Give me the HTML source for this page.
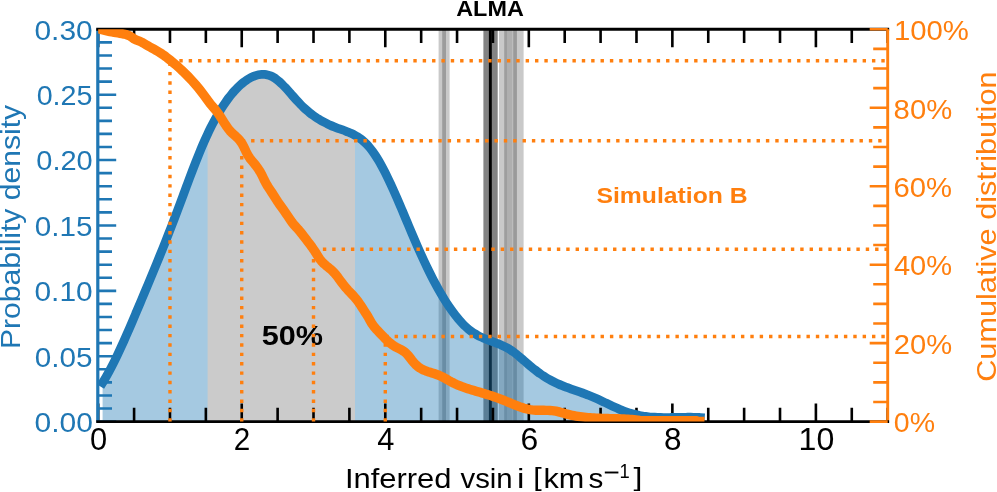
<!DOCTYPE html><html><head><meta charset="utf-8"><style>html,body{margin:0;padding:0;background:#fff;}svg{display:block;}text{font-family:"Liberation Sans", sans-serif;}</style></head><body>
<div style="will-change:transform;width:997px;height:492px;"><svg width="997" height="492" viewBox="0 0 997 492">
<defs><clipPath id="ax"><rect x="98.2" y="29.3" width="789.5" height="392.3"/></clipPath></defs>
<rect x="0" y="0" width="997" height="492" fill="#fff"/>
<rect x="438.6" y="29.3" width="11" height="392.3" fill="#c9c9c9"/>
<rect x="442.2" y="29.3" width="3.8" height="392.3" fill="#9c9c9c"/>
<rect x="483.4" y="29.3" width="14.3" height="392.3" fill="#838383"/>
<rect x="488.9" y="29.3" width="2.9" height="392.3" fill="#000000"/>
<rect x="499" y="29.3" width="24.6" height="392.3" fill="#c9c9c9"/>
<rect x="504.2" y="29.3" width="2.8" height="392.3" fill="#9e9e9e"/>
<rect x="507" y="29.3" width="5.5" height="392.3" fill="#afafaf"/>
<rect x="513.2" y="29.3" width="3.7" height="392.3" fill="#9a9a9a"/>
<path d="M102.6 382.71 C103.1 381.88 104.6 379.47 105.6 377.76 C106.6 376.05 107.6 374.27 108.6 372.44 C109.6 370.61 110.6 368.73 111.6 366.8 C112.6 364.87 113.6 362.88 114.6 360.86 C115.6 358.84 116.6 356.77 117.6 354.66 C118.6 352.56 119.6 350.41 120.6 348.23 C121.6 346.06 122.6 343.85 123.6 341.61 C124.6 339.38 125.6 337.1 126.6 334.82 C127.6 332.54 128.6 330.23 129.6 327.91 C130.6 325.59 131.6 323.26 132.6 320.91 C133.6 318.56 134.6 316.2 135.6 313.84 C136.6 311.48 137.6 309.12 138.6 306.75 C139.6 304.38 140.6 302.02 141.6 299.65 C142.6 297.28 143.6 294.9 144.6 292.52 C145.6 290.14 146.6 287.75 147.6 285.36 C148.6 282.97 149.6 280.58 150.6 278.17 C151.6 275.76 152.6 273.35 153.6 270.93 C154.6 268.51 155.6 266.07 156.6 263.63 C157.6 261.19 158.6 258.74 159.6 256.27 C160.6 253.8 161.6 251.32 162.6 248.83 C163.6 246.34 164.6 243.84 165.6 241.32 C166.6 238.8 167.6 236.26 168.6 233.71 C169.6 231.16 170.6 228.59 171.6 226.01 C172.6 223.42 173.6 220.82 174.6 218.2 C175.6 215.58 176.6 212.94 177.6 210.28 C178.6 207.62 179.6 204.93 180.6 202.24 C181.6 199.55 182.6 196.85 183.6 194.15 C184.6 191.45 185.6 188.74 186.6 186.05 C187.6 183.36 188.6 180.66 189.6 178 C190.6 175.34 191.6 172.69 192.6 170.07 C193.6 167.45 194.6 164.85 195.6 162.3 C196.6 159.75 197.6 157.23 198.6 154.77 C199.6 152.31 200.6 149.88 201.6 147.52 C202.6 145.16 203.6 142.84 204.6 140.59 C205.6 138.34 206.6 136.15 207.6 134.02 C208.6 131.89 209.6 129.83 210.6 127.83 C211.6 125.83 212.6 123.89 213.6 122.01 C214.6 120.13 215.6 118.31 216.6 116.55 C217.6 114.79 218.6 113.08 219.6 111.43 C220.6 109.78 221.6 108.17 222.6 106.63 C223.6 105.08 224.6 103.59 225.6 102.16 C226.6 100.72 227.6 99.34 228.6 98.02 C229.6 96.69 230.6 95.42 231.6 94.21 C232.6 92.99 233.6 91.84 234.6 90.73 C235.6 89.62 236.6 88.57 237.6 87.57 C238.6 86.57 239.6 85.63 240.6 84.75 C241.6 83.87 242.6 83.04 243.6 82.26 C244.6 81.48 245.6 80.77 246.6 80.1 C247.6 79.43 248.6 78.82 249.6 78.26 C250.6 77.7 251.6 77.2 252.6 76.76 C253.6 76.32 254.6 75.93 255.6 75.6 C256.6 75.27 257.6 75 258.6 74.8 C259.6 74.6 260.6 74.46 261.6 74.4 C262.6 74.34 263.6 74.34 264.6 74.43 C265.6 74.52 266.6 74.68 267.6 74.92 C268.6 75.16 269.6 75.48 270.6 75.89 C271.6 76.3 272.6 76.8 273.6 77.39 C274.6 77.98 275.6 78.66 276.6 79.41 C277.6 80.16 278.6 81 279.6 81.89 C280.6 82.78 281.6 83.74 282.6 84.74 C283.6 85.73 284.6 86.79 285.6 87.86 C286.6 88.93 287.6 90.05 288.6 91.17 C289.6 92.29 290.6 93.45 291.6 94.59 C292.6 95.73 293.6 96.88 294.6 98.01 C295.6 99.14 296.6 100.27 297.6 101.35 C298.6 102.43 299.6 103.5 300.6 104.52 C301.6 105.54 302.6 106.52 303.6 107.46 C304.6 108.4 305.6 109.31 306.6 110.18 C307.6 111.05 308.6 111.89 309.6 112.69 C310.6 113.49 311.6 114.25 312.6 114.99 C313.6 115.73 314.6 116.43 315.6 117.11 C316.6 117.79 317.6 118.43 318.6 119.05 C319.6 119.67 320.6 120.27 321.6 120.84 C322.6 121.41 323.6 121.95 324.6 122.47 C325.6 122.99 326.6 123.49 327.6 123.97 C328.6 124.45 329.6 124.91 330.6 125.35 C331.6 125.79 332.6 126.21 333.6 126.62 C334.6 127.03 335.6 127.41 336.6 127.79 C337.6 128.17 338.6 128.53 339.6 128.89 C340.6 129.25 341.6 129.59 342.6 129.95 C343.6 130.31 344.6 130.67 345.6 131.05 C346.6 131.43 347.6 131.81 348.6 132.23 C349.6 132.65 350.6 133.08 351.6 133.55 C352.6 134.02 353.6 134.52 354.6 135.06 C355.6 135.6 356.6 136.18 357.6 136.82 C358.6 137.46 359.6 138.14 360.6 138.89 C361.6 139.64 362.6 140.45 363.6 141.33 C364.6 142.21 365.6 143.15 366.6 144.18 C367.6 145.21 368.6 146.31 369.6 147.5 C370.6 148.69 371.6 149.98 372.6 151.35 C373.6 152.72 374.6 154.19 375.6 155.73 C376.6 157.27 377.6 158.9 378.6 160.59 C379.6 162.28 380.6 164.06 381.6 165.89 C382.6 167.72 383.6 169.63 384.6 171.58 C385.6 173.53 386.6 175.55 387.6 177.61 C388.6 179.67 389.6 181.79 390.6 183.94 C391.6 186.09 392.6 188.29 393.6 190.52 C394.6 192.75 395.6 195.02 396.6 197.31 C397.6 199.6 398.6 201.92 399.6 204.26 C400.6 206.59 401.6 208.96 402.6 211.32 C403.6 213.68 404.6 216.06 405.6 218.44 C406.6 220.82 407.6 223.2 408.6 225.58 C409.6 227.96 410.6 230.34 411.6 232.7 C412.6 235.06 413.6 237.41 414.6 239.74 C415.6 242.07 416.6 244.38 417.6 246.66 C418.6 248.94 419.6 251.2 420.6 253.42 C421.6 255.64 422.6 257.83 423.6 259.98 C424.6 262.13 425.6 264.26 426.6 266.34 C427.6 268.42 428.6 270.47 429.6 272.48 C430.6 274.49 431.6 276.46 432.6 278.4 C433.6 280.34 434.6 282.24 435.6 284.1 C436.6 285.96 437.6 287.77 438.6 289.55 C439.6 291.33 440.6 293.06 441.6 294.76 C442.6 296.45 443.6 298.11 444.6 299.72 C445.6 301.33 446.6 302.9 447.6 304.42 C448.6 305.94 449.6 307.41 450.6 308.84 C451.6 310.27 452.6 311.65 453.6 312.99 C454.6 314.33 455.6 315.62 456.6 316.86 C457.6 318.1 458.6 319.29 459.6 320.43 C460.6 321.57 461.6 322.65 462.6 323.69 C463.6 324.73 464.6 325.72 465.6 326.65 C466.6 327.58 467.6 328.46 468.6 329.29 C469.6 330.12 470.6 330.89 471.6 331.61 C472.6 332.33 473.6 332.99 474.6 333.61 C475.6 334.23 476.6 334.81 477.6 335.35 C478.6 335.9 479.6 336.4 480.6 336.88 C481.6 337.36 482.6 337.79 483.6 338.22 C484.6 338.65 485.6 339.05 486.6 339.44 C487.6 339.83 488.6 340.21 489.6 340.58 C490.6 340.95 491.6 341.31 492.6 341.68 C493.6 342.05 494.6 342.4 495.6 342.78 C496.6 343.15 497.6 343.53 498.6 343.93 C499.6 344.33 500.6 344.75 501.6 345.19 C502.6 345.63 503.6 346.08 504.6 346.58 C505.6 347.07 506.6 347.59 507.6 348.16 C508.6 348.73 509.6 349.33 510.6 349.98 C511.6 350.63 512.6 351.33 513.6 352.06 C514.6 352.79 515.6 353.56 516.6 354.36 C517.6 355.16 518.6 355.99 519.6 356.83 C520.6 357.67 521.6 358.53 522.6 359.4 C523.6 360.26 524.6 361.15 525.6 362.02 C526.6 362.89 527.6 363.76 528.6 364.62 C529.6 365.48 530.6 366.32 531.6 367.15 C532.6 367.97 533.6 368.79 534.6 369.57 C535.6 370.35 536.6 371.11 537.6 371.85 C538.6 372.59 539.6 373.31 540.6 374.01 C541.6 374.71 542.6 375.38 543.6 376.03 C544.6 376.68 545.6 377.31 546.6 377.92 C547.6 378.53 548.6 379.1 549.6 379.66 C550.6 380.22 551.6 380.76 552.6 381.27 C553.6 381.78 554.6 382.27 555.6 382.74 C556.6 383.21 557.6 383.67 558.6 384.11 C559.6 384.55 560.6 384.97 561.6 385.38 C562.6 385.79 563.6 386.18 564.6 386.57 C565.6 386.96 566.6 387.33 567.6 387.7 C568.6 388.07 569.6 388.42 570.6 388.78 C571.6 389.13 572.6 389.48 573.6 389.83 C574.6 390.18 575.6 390.52 576.6 390.87 C577.6 391.22 578.6 391.57 579.6 391.92 C580.6 392.27 581.6 392.62 582.6 392.98 C583.6 393.34 584.6 393.7 585.6 394.08 C586.6 394.46 587.6 394.84 588.6 395.24 C589.6 395.64 590.6 396.05 591.6 396.47 C592.6 396.89 593.6 397.32 594.6 397.76 C595.6 398.2 596.6 398.65 597.6 399.11 C598.6 399.57 599.6 400.03 600.6 400.5 C601.6 400.97 602.6 401.45 603.6 401.92 C604.6 402.39 605.6 402.87 606.6 403.34 C607.6 403.81 608.6 404.29 609.6 404.76 C610.6 405.23 611.6 405.7 612.6 406.16 C613.6 406.62 614.6 407.08 615.6 407.53 C616.6 407.98 617.6 408.41 618.6 408.84 C619.6 409.27 620.6 409.69 621.6 410.09 C622.6 410.49 623.6 410.89 624.6 411.26 C625.6 411.63 626.6 411.99 627.6 412.33 C628.6 412.67 629.6 412.99 630.6 413.29 C631.6 413.59 632.6 413.87 633.6 414.13 C634.6 414.39 635.6 414.63 636.6 414.85 C637.6 415.07 638.6 415.28 639.6 415.47 C640.6 415.66 641.6 415.83 642.6 415.99 C643.6 416.15 644.6 416.29 645.6 416.42 C646.6 416.55 647.6 416.67 648.6 416.77 C649.6 416.87 650.6 416.96 651.6 417.04 C652.6 417.12 653.6 417.19 654.6 417.25 C655.6 417.31 656.6 417.35 657.6 417.39 C658.6 417.43 659.6 417.47 660.6 417.49 C661.6 417.51 662.6 417.53 663.6 417.54 C664.6 417.55 665.6 417.55 666.6 417.55 C667.6 417.55 668.6 417.54 669.6 417.53 C670.6 417.52 671.6 417.5 672.6 417.49 C673.6 417.48 674.6 417.46 675.6 417.44 C676.6 417.42 677.6 417.41 678.6 417.39 C679.6 417.37 680.6 417.35 681.6 417.33 C682.6 417.31 683.6 417.3 684.6 417.29 C685.6 417.28 686.6 417.26 687.6 417.26 C688.6 417.25 689.6 417.25 690.6 417.26 C691.6 417.26 692.6 417.27 693.6 417.29 C694.6 417.31 695.6 417.33 696.6 417.36 C697.6 417.39 698.98 417.45 699.6 417.48 C700.22 417.51 700.18 417.51 700.3 417.52 L700.3 421.6 L102.6 421.6 Z" fill="#1f77b4" fill-opacity="0.4" clip-path="url(#ax)"/>
<clipPath id="gr"><rect x="207.6" y="0" width="147.4" height="492"/></clipPath>
<path d="M102.6 382.71 C103.1 381.88 104.6 379.47 105.6 377.76 C106.6 376.05 107.6 374.27 108.6 372.44 C109.6 370.61 110.6 368.73 111.6 366.8 C112.6 364.87 113.6 362.88 114.6 360.86 C115.6 358.84 116.6 356.77 117.6 354.66 C118.6 352.56 119.6 350.41 120.6 348.23 C121.6 346.06 122.6 343.85 123.6 341.61 C124.6 339.38 125.6 337.1 126.6 334.82 C127.6 332.54 128.6 330.23 129.6 327.91 C130.6 325.59 131.6 323.26 132.6 320.91 C133.6 318.56 134.6 316.2 135.6 313.84 C136.6 311.48 137.6 309.12 138.6 306.75 C139.6 304.38 140.6 302.02 141.6 299.65 C142.6 297.28 143.6 294.9 144.6 292.52 C145.6 290.14 146.6 287.75 147.6 285.36 C148.6 282.97 149.6 280.58 150.6 278.17 C151.6 275.76 152.6 273.35 153.6 270.93 C154.6 268.51 155.6 266.07 156.6 263.63 C157.6 261.19 158.6 258.74 159.6 256.27 C160.6 253.8 161.6 251.32 162.6 248.83 C163.6 246.34 164.6 243.84 165.6 241.32 C166.6 238.8 167.6 236.26 168.6 233.71 C169.6 231.16 170.6 228.59 171.6 226.01 C172.6 223.42 173.6 220.82 174.6 218.2 C175.6 215.58 176.6 212.94 177.6 210.28 C178.6 207.62 179.6 204.93 180.6 202.24 C181.6 199.55 182.6 196.85 183.6 194.15 C184.6 191.45 185.6 188.74 186.6 186.05 C187.6 183.36 188.6 180.66 189.6 178 C190.6 175.34 191.6 172.69 192.6 170.07 C193.6 167.45 194.6 164.85 195.6 162.3 C196.6 159.75 197.6 157.23 198.6 154.77 C199.6 152.31 200.6 149.88 201.6 147.52 C202.6 145.16 203.6 142.84 204.6 140.59 C205.6 138.34 206.6 136.15 207.6 134.02 C208.6 131.89 209.6 129.83 210.6 127.83 C211.6 125.83 212.6 123.89 213.6 122.01 C214.6 120.13 215.6 118.31 216.6 116.55 C217.6 114.79 218.6 113.08 219.6 111.43 C220.6 109.78 221.6 108.17 222.6 106.63 C223.6 105.08 224.6 103.59 225.6 102.16 C226.6 100.72 227.6 99.34 228.6 98.02 C229.6 96.69 230.6 95.42 231.6 94.21 C232.6 92.99 233.6 91.84 234.6 90.73 C235.6 89.62 236.6 88.57 237.6 87.57 C238.6 86.57 239.6 85.63 240.6 84.75 C241.6 83.87 242.6 83.04 243.6 82.26 C244.6 81.48 245.6 80.77 246.6 80.1 C247.6 79.43 248.6 78.82 249.6 78.26 C250.6 77.7 251.6 77.2 252.6 76.76 C253.6 76.32 254.6 75.93 255.6 75.6 C256.6 75.27 257.6 75 258.6 74.8 C259.6 74.6 260.6 74.46 261.6 74.4 C262.6 74.34 263.6 74.34 264.6 74.43 C265.6 74.52 266.6 74.68 267.6 74.92 C268.6 75.16 269.6 75.48 270.6 75.89 C271.6 76.3 272.6 76.8 273.6 77.39 C274.6 77.98 275.6 78.66 276.6 79.41 C277.6 80.16 278.6 81 279.6 81.89 C280.6 82.78 281.6 83.74 282.6 84.74 C283.6 85.73 284.6 86.79 285.6 87.86 C286.6 88.93 287.6 90.05 288.6 91.17 C289.6 92.29 290.6 93.45 291.6 94.59 C292.6 95.73 293.6 96.88 294.6 98.01 C295.6 99.14 296.6 100.27 297.6 101.35 C298.6 102.43 299.6 103.5 300.6 104.52 C301.6 105.54 302.6 106.52 303.6 107.46 C304.6 108.4 305.6 109.31 306.6 110.18 C307.6 111.05 308.6 111.89 309.6 112.69 C310.6 113.49 311.6 114.25 312.6 114.99 C313.6 115.73 314.6 116.43 315.6 117.11 C316.6 117.79 317.6 118.43 318.6 119.05 C319.6 119.67 320.6 120.27 321.6 120.84 C322.6 121.41 323.6 121.95 324.6 122.47 C325.6 122.99 326.6 123.49 327.6 123.97 C328.6 124.45 329.6 124.91 330.6 125.35 C331.6 125.79 332.6 126.21 333.6 126.62 C334.6 127.03 335.6 127.41 336.6 127.79 C337.6 128.17 338.6 128.53 339.6 128.89 C340.6 129.25 341.6 129.59 342.6 129.95 C343.6 130.31 344.6 130.67 345.6 131.05 C346.6 131.43 347.6 131.81 348.6 132.23 C349.6 132.65 350.6 133.08 351.6 133.55 C352.6 134.02 353.6 134.52 354.6 135.06 C355.6 135.6 356.6 136.18 357.6 136.82 C358.6 137.46 359.6 138.14 360.6 138.89 C361.6 139.64 362.6 140.45 363.6 141.33 C364.6 142.21 365.6 143.15 366.6 144.18 C367.6 145.21 368.6 146.31 369.6 147.5 C370.6 148.69 371.6 149.98 372.6 151.35 C373.6 152.72 374.6 154.19 375.6 155.73 C376.6 157.27 377.6 158.9 378.6 160.59 C379.6 162.28 380.6 164.06 381.6 165.89 C382.6 167.72 383.6 169.63 384.6 171.58 C385.6 173.53 386.6 175.55 387.6 177.61 C388.6 179.67 389.6 181.79 390.6 183.94 C391.6 186.09 392.6 188.29 393.6 190.52 C394.6 192.75 395.6 195.02 396.6 197.31 C397.6 199.6 398.6 201.92 399.6 204.26 C400.6 206.59 401.6 208.96 402.6 211.32 C403.6 213.68 404.6 216.06 405.6 218.44 C406.6 220.82 407.6 223.2 408.6 225.58 C409.6 227.96 410.6 230.34 411.6 232.7 C412.6 235.06 413.6 237.41 414.6 239.74 C415.6 242.07 416.6 244.38 417.6 246.66 C418.6 248.94 419.6 251.2 420.6 253.42 C421.6 255.64 422.6 257.83 423.6 259.98 C424.6 262.13 425.6 264.26 426.6 266.34 C427.6 268.42 428.6 270.47 429.6 272.48 C430.6 274.49 431.6 276.46 432.6 278.4 C433.6 280.34 434.6 282.24 435.6 284.1 C436.6 285.96 437.6 287.77 438.6 289.55 C439.6 291.33 440.6 293.06 441.6 294.76 C442.6 296.45 443.6 298.11 444.6 299.72 C445.6 301.33 446.6 302.9 447.6 304.42 C448.6 305.94 449.6 307.41 450.6 308.84 C451.6 310.27 452.6 311.65 453.6 312.99 C454.6 314.33 455.6 315.62 456.6 316.86 C457.6 318.1 458.6 319.29 459.6 320.43 C460.6 321.57 461.6 322.65 462.6 323.69 C463.6 324.73 464.6 325.72 465.6 326.65 C466.6 327.58 467.6 328.46 468.6 329.29 C469.6 330.12 470.6 330.89 471.6 331.61 C472.6 332.33 473.6 332.99 474.6 333.61 C475.6 334.23 476.6 334.81 477.6 335.35 C478.6 335.9 479.6 336.4 480.6 336.88 C481.6 337.36 482.6 337.79 483.6 338.22 C484.6 338.65 485.6 339.05 486.6 339.44 C487.6 339.83 488.6 340.21 489.6 340.58 C490.6 340.95 491.6 341.31 492.6 341.68 C493.6 342.05 494.6 342.4 495.6 342.78 C496.6 343.15 497.6 343.53 498.6 343.93 C499.6 344.33 500.6 344.75 501.6 345.19 C502.6 345.63 503.6 346.08 504.6 346.58 C505.6 347.07 506.6 347.59 507.6 348.16 C508.6 348.73 509.6 349.33 510.6 349.98 C511.6 350.63 512.6 351.33 513.6 352.06 C514.6 352.79 515.6 353.56 516.6 354.36 C517.6 355.16 518.6 355.99 519.6 356.83 C520.6 357.67 521.6 358.53 522.6 359.4 C523.6 360.26 524.6 361.15 525.6 362.02 C526.6 362.89 527.6 363.76 528.6 364.62 C529.6 365.48 530.6 366.32 531.6 367.15 C532.6 367.97 533.6 368.79 534.6 369.57 C535.6 370.35 536.6 371.11 537.6 371.85 C538.6 372.59 539.6 373.31 540.6 374.01 C541.6 374.71 542.6 375.38 543.6 376.03 C544.6 376.68 545.6 377.31 546.6 377.92 C547.6 378.53 548.6 379.1 549.6 379.66 C550.6 380.22 551.6 380.76 552.6 381.27 C553.6 381.78 554.6 382.27 555.6 382.74 C556.6 383.21 557.6 383.67 558.6 384.11 C559.6 384.55 560.6 384.97 561.6 385.38 C562.6 385.79 563.6 386.18 564.6 386.57 C565.6 386.96 566.6 387.33 567.6 387.7 C568.6 388.07 569.6 388.42 570.6 388.78 C571.6 389.13 572.6 389.48 573.6 389.83 C574.6 390.18 575.6 390.52 576.6 390.87 C577.6 391.22 578.6 391.57 579.6 391.92 C580.6 392.27 581.6 392.62 582.6 392.98 C583.6 393.34 584.6 393.7 585.6 394.08 C586.6 394.46 587.6 394.84 588.6 395.24 C589.6 395.64 590.6 396.05 591.6 396.47 C592.6 396.89 593.6 397.32 594.6 397.76 C595.6 398.2 596.6 398.65 597.6 399.11 C598.6 399.57 599.6 400.03 600.6 400.5 C601.6 400.97 602.6 401.45 603.6 401.92 C604.6 402.39 605.6 402.87 606.6 403.34 C607.6 403.81 608.6 404.29 609.6 404.76 C610.6 405.23 611.6 405.7 612.6 406.16 C613.6 406.62 614.6 407.08 615.6 407.53 C616.6 407.98 617.6 408.41 618.6 408.84 C619.6 409.27 620.6 409.69 621.6 410.09 C622.6 410.49 623.6 410.89 624.6 411.26 C625.6 411.63 626.6 411.99 627.6 412.33 C628.6 412.67 629.6 412.99 630.6 413.29 C631.6 413.59 632.6 413.87 633.6 414.13 C634.6 414.39 635.6 414.63 636.6 414.85 C637.6 415.07 638.6 415.28 639.6 415.47 C640.6 415.66 641.6 415.83 642.6 415.99 C643.6 416.15 644.6 416.29 645.6 416.42 C646.6 416.55 647.6 416.67 648.6 416.77 C649.6 416.87 650.6 416.96 651.6 417.04 C652.6 417.12 653.6 417.19 654.6 417.25 C655.6 417.31 656.6 417.35 657.6 417.39 C658.6 417.43 659.6 417.47 660.6 417.49 C661.6 417.51 662.6 417.53 663.6 417.54 C664.6 417.55 665.6 417.55 666.6 417.55 C667.6 417.55 668.6 417.54 669.6 417.53 C670.6 417.52 671.6 417.5 672.6 417.49 C673.6 417.48 674.6 417.46 675.6 417.44 C676.6 417.42 677.6 417.41 678.6 417.39 C679.6 417.37 680.6 417.35 681.6 417.33 C682.6 417.31 683.6 417.3 684.6 417.29 C685.6 417.28 686.6 417.26 687.6 417.26 C688.6 417.25 689.6 417.25 690.6 417.26 C691.6 417.26 692.6 417.27 693.6 417.29 C694.6 417.31 695.6 417.33 696.6 417.36 C697.6 417.39 698.98 417.45 699.6 417.48 C700.22 417.51 700.18 417.51 700.3 417.52 L700.3 421.6 L102.6 421.6 Z" fill="#cbcbcb" clip-path="url(#gr)"/>
<path d="M98.2 421.6 V403.6 M98.2 29.3 V47.3 M134.09 421.6 V407.8 M134.09 29.3 V43.1 M169.97 421.6 V407.8 M169.97 29.3 V43.1 M205.86 421.6 V407.8 M205.86 29.3 V43.1 M241.74 421.6 V403.6 M241.74 29.3 V47.3 M277.62 421.6 V407.8 M277.62 29.3 V43.1 M313.51 421.6 V407.8 M313.51 29.3 V43.1 M349.39 421.6 V407.8 M349.39 29.3 V43.1 M385.28 421.6 V403.6 M385.28 29.3 V47.3 M421.16 421.6 V407.8 M421.16 29.3 V43.1 M457.05 421.6 V407.8 M457.05 29.3 V43.1 M492.93 421.6 V407.8 M492.93 29.3 V43.1 M528.82 421.6 V403.6 M528.82 29.3 V47.3 M564.71 421.6 V407.8 M564.71 29.3 V43.1 M600.59 421.6 V407.8 M600.59 29.3 V43.1 M636.48 421.6 V407.8 M636.48 29.3 V43.1 M672.36 421.6 V403.6 M672.36 29.3 V47.3 M708.25 421.6 V407.8 M708.25 29.3 V43.1 M744.13 421.6 V407.8 M744.13 29.3 V43.1 M780.01 421.6 V407.8 M780.01 29.3 V43.1 M815.9 421.6 V403.6 M815.9 29.3 V47.3 M851.78 421.6 V407.8 M851.78 29.3 V43.1 M887.67 421.6 V407.8 M887.67 29.3 V43.1" stroke="#000" stroke-width="2.6" fill="none"/>
<path d="M98.2 421.6 H116.2 M98.2 408.52 H112 M98.2 395.45 H112 M98.2 382.37 H112 M98.2 369.29 H112 M98.2 356.22 H116.2 M98.2 343.14 H112 M98.2 330.06 H112 M98.2 316.99 H112 M98.2 303.91 H112 M98.2 290.83 H116.2 M98.2 277.76 H112 M98.2 264.68 H112 M98.2 251.6 H112 M98.2 238.53 H112 M98.2 225.45 H116.2 M98.2 212.37 H112 M98.2 199.3 H112 M98.2 186.22 H112 M98.2 173.14 H112 M98.2 160.07 H116.2 M98.2 146.99 H112 M98.2 133.91 H112 M98.2 120.84 H112 M98.2 107.76 H112 M98.2 94.68 H116.2 M98.2 81.61 H112 M98.2 68.53 H112 M98.2 55.45 H112 M98.2 42.38 H112 M98.2 29.3 H116.2" stroke="#1f77b4" stroke-width="2.6" fill="none"/>
<path d="M102.6 382.71 C103.1 381.88 104.6 379.47 105.6 377.76 C106.6 376.05 107.6 374.27 108.6 372.44 C109.6 370.61 110.6 368.73 111.6 366.8 C112.6 364.87 113.6 362.88 114.6 360.86 C115.6 358.84 116.6 356.77 117.6 354.66 C118.6 352.56 119.6 350.41 120.6 348.23 C121.6 346.06 122.6 343.85 123.6 341.61 C124.6 339.38 125.6 337.1 126.6 334.82 C127.6 332.54 128.6 330.23 129.6 327.91 C130.6 325.59 131.6 323.26 132.6 320.91 C133.6 318.56 134.6 316.2 135.6 313.84 C136.6 311.48 137.6 309.12 138.6 306.75 C139.6 304.38 140.6 302.02 141.6 299.65 C142.6 297.28 143.6 294.9 144.6 292.52 C145.6 290.14 146.6 287.75 147.6 285.36 C148.6 282.97 149.6 280.58 150.6 278.17 C151.6 275.76 152.6 273.35 153.6 270.93 C154.6 268.51 155.6 266.07 156.6 263.63 C157.6 261.19 158.6 258.74 159.6 256.27 C160.6 253.8 161.6 251.32 162.6 248.83 C163.6 246.34 164.6 243.84 165.6 241.32 C166.6 238.8 167.6 236.26 168.6 233.71 C169.6 231.16 170.6 228.59 171.6 226.01 C172.6 223.42 173.6 220.82 174.6 218.2 C175.6 215.58 176.6 212.94 177.6 210.28 C178.6 207.62 179.6 204.93 180.6 202.24 C181.6 199.55 182.6 196.85 183.6 194.15 C184.6 191.45 185.6 188.74 186.6 186.05 C187.6 183.36 188.6 180.66 189.6 178 C190.6 175.34 191.6 172.69 192.6 170.07 C193.6 167.45 194.6 164.85 195.6 162.3 C196.6 159.75 197.6 157.23 198.6 154.77 C199.6 152.31 200.6 149.88 201.6 147.52 C202.6 145.16 203.6 142.84 204.6 140.59 C205.6 138.34 206.6 136.15 207.6 134.02 C208.6 131.89 209.6 129.83 210.6 127.83 C211.6 125.83 212.6 123.89 213.6 122.01 C214.6 120.13 215.6 118.31 216.6 116.55 C217.6 114.79 218.6 113.08 219.6 111.43 C220.6 109.78 221.6 108.17 222.6 106.63 C223.6 105.08 224.6 103.59 225.6 102.16 C226.6 100.72 227.6 99.34 228.6 98.02 C229.6 96.69 230.6 95.42 231.6 94.21 C232.6 92.99 233.6 91.84 234.6 90.73 C235.6 89.62 236.6 88.57 237.6 87.57 C238.6 86.57 239.6 85.63 240.6 84.75 C241.6 83.87 242.6 83.04 243.6 82.26 C244.6 81.48 245.6 80.77 246.6 80.1 C247.6 79.43 248.6 78.82 249.6 78.26 C250.6 77.7 251.6 77.2 252.6 76.76 C253.6 76.32 254.6 75.93 255.6 75.6 C256.6 75.27 257.6 75 258.6 74.8 C259.6 74.6 260.6 74.46 261.6 74.4 C262.6 74.34 263.6 74.34 264.6 74.43 C265.6 74.52 266.6 74.68 267.6 74.92 C268.6 75.16 269.6 75.48 270.6 75.89 C271.6 76.3 272.6 76.8 273.6 77.39 C274.6 77.98 275.6 78.66 276.6 79.41 C277.6 80.16 278.6 81 279.6 81.89 C280.6 82.78 281.6 83.74 282.6 84.74 C283.6 85.73 284.6 86.79 285.6 87.86 C286.6 88.93 287.6 90.05 288.6 91.17 C289.6 92.29 290.6 93.45 291.6 94.59 C292.6 95.73 293.6 96.88 294.6 98.01 C295.6 99.14 296.6 100.27 297.6 101.35 C298.6 102.43 299.6 103.5 300.6 104.52 C301.6 105.54 302.6 106.52 303.6 107.46 C304.6 108.4 305.6 109.31 306.6 110.18 C307.6 111.05 308.6 111.89 309.6 112.69 C310.6 113.49 311.6 114.25 312.6 114.99 C313.6 115.73 314.6 116.43 315.6 117.11 C316.6 117.79 317.6 118.43 318.6 119.05 C319.6 119.67 320.6 120.27 321.6 120.84 C322.6 121.41 323.6 121.95 324.6 122.47 C325.6 122.99 326.6 123.49 327.6 123.97 C328.6 124.45 329.6 124.91 330.6 125.35 C331.6 125.79 332.6 126.21 333.6 126.62 C334.6 127.03 335.6 127.41 336.6 127.79 C337.6 128.17 338.6 128.53 339.6 128.89 C340.6 129.25 341.6 129.59 342.6 129.95 C343.6 130.31 344.6 130.67 345.6 131.05 C346.6 131.43 347.6 131.81 348.6 132.23 C349.6 132.65 350.6 133.08 351.6 133.55 C352.6 134.02 353.6 134.52 354.6 135.06 C355.6 135.6 356.6 136.18 357.6 136.82 C358.6 137.46 359.6 138.14 360.6 138.89 C361.6 139.64 362.6 140.45 363.6 141.33 C364.6 142.21 365.6 143.15 366.6 144.18 C367.6 145.21 368.6 146.31 369.6 147.5 C370.6 148.69 371.6 149.98 372.6 151.35 C373.6 152.72 374.6 154.19 375.6 155.73 C376.6 157.27 377.6 158.9 378.6 160.59 C379.6 162.28 380.6 164.06 381.6 165.89 C382.6 167.72 383.6 169.63 384.6 171.58 C385.6 173.53 386.6 175.55 387.6 177.61 C388.6 179.67 389.6 181.79 390.6 183.94 C391.6 186.09 392.6 188.29 393.6 190.52 C394.6 192.75 395.6 195.02 396.6 197.31 C397.6 199.6 398.6 201.92 399.6 204.26 C400.6 206.59 401.6 208.96 402.6 211.32 C403.6 213.68 404.6 216.06 405.6 218.44 C406.6 220.82 407.6 223.2 408.6 225.58 C409.6 227.96 410.6 230.34 411.6 232.7 C412.6 235.06 413.6 237.41 414.6 239.74 C415.6 242.07 416.6 244.38 417.6 246.66 C418.6 248.94 419.6 251.2 420.6 253.42 C421.6 255.64 422.6 257.83 423.6 259.98 C424.6 262.13 425.6 264.26 426.6 266.34 C427.6 268.42 428.6 270.47 429.6 272.48 C430.6 274.49 431.6 276.46 432.6 278.4 C433.6 280.34 434.6 282.24 435.6 284.1 C436.6 285.96 437.6 287.77 438.6 289.55 C439.6 291.33 440.6 293.06 441.6 294.76 C442.6 296.45 443.6 298.11 444.6 299.72 C445.6 301.33 446.6 302.9 447.6 304.42 C448.6 305.94 449.6 307.41 450.6 308.84 C451.6 310.27 452.6 311.65 453.6 312.99 C454.6 314.33 455.6 315.62 456.6 316.86 C457.6 318.1 458.6 319.29 459.6 320.43 C460.6 321.57 461.6 322.65 462.6 323.69 C463.6 324.73 464.6 325.72 465.6 326.65 C466.6 327.58 467.6 328.46 468.6 329.29 C469.6 330.12 470.6 330.89 471.6 331.61 C472.6 332.33 473.6 332.99 474.6 333.61 C475.6 334.23 476.6 334.81 477.6 335.35 C478.6 335.9 479.6 336.4 480.6 336.88 C481.6 337.36 482.6 337.79 483.6 338.22 C484.6 338.65 485.6 339.05 486.6 339.44 C487.6 339.83 488.6 340.21 489.6 340.58 C490.6 340.95 491.6 341.31 492.6 341.68 C493.6 342.05 494.6 342.4 495.6 342.78 C496.6 343.15 497.6 343.53 498.6 343.93 C499.6 344.33 500.6 344.75 501.6 345.19 C502.6 345.63 503.6 346.08 504.6 346.58 C505.6 347.07 506.6 347.59 507.6 348.16 C508.6 348.73 509.6 349.33 510.6 349.98 C511.6 350.63 512.6 351.33 513.6 352.06 C514.6 352.79 515.6 353.56 516.6 354.36 C517.6 355.16 518.6 355.99 519.6 356.83 C520.6 357.67 521.6 358.53 522.6 359.4 C523.6 360.26 524.6 361.15 525.6 362.02 C526.6 362.89 527.6 363.76 528.6 364.62 C529.6 365.48 530.6 366.32 531.6 367.15 C532.6 367.97 533.6 368.79 534.6 369.57 C535.6 370.35 536.6 371.11 537.6 371.85 C538.6 372.59 539.6 373.31 540.6 374.01 C541.6 374.71 542.6 375.38 543.6 376.03 C544.6 376.68 545.6 377.31 546.6 377.92 C547.6 378.53 548.6 379.1 549.6 379.66 C550.6 380.22 551.6 380.76 552.6 381.27 C553.6 381.78 554.6 382.27 555.6 382.74 C556.6 383.21 557.6 383.67 558.6 384.11 C559.6 384.55 560.6 384.97 561.6 385.38 C562.6 385.79 563.6 386.18 564.6 386.57 C565.6 386.96 566.6 387.33 567.6 387.7 C568.6 388.07 569.6 388.42 570.6 388.78 C571.6 389.13 572.6 389.48 573.6 389.83 C574.6 390.18 575.6 390.52 576.6 390.87 C577.6 391.22 578.6 391.57 579.6 391.92 C580.6 392.27 581.6 392.62 582.6 392.98 C583.6 393.34 584.6 393.7 585.6 394.08 C586.6 394.46 587.6 394.84 588.6 395.24 C589.6 395.64 590.6 396.05 591.6 396.47 C592.6 396.89 593.6 397.32 594.6 397.76 C595.6 398.2 596.6 398.65 597.6 399.11 C598.6 399.57 599.6 400.03 600.6 400.5 C601.6 400.97 602.6 401.45 603.6 401.92 C604.6 402.39 605.6 402.87 606.6 403.34 C607.6 403.81 608.6 404.29 609.6 404.76 C610.6 405.23 611.6 405.7 612.6 406.16 C613.6 406.62 614.6 407.08 615.6 407.53 C616.6 407.98 617.6 408.41 618.6 408.84 C619.6 409.27 620.6 409.69 621.6 410.09 C622.6 410.49 623.6 410.89 624.6 411.26 C625.6 411.63 626.6 411.99 627.6 412.33 C628.6 412.67 629.6 412.99 630.6 413.29 C631.6 413.59 632.6 413.87 633.6 414.13 C634.6 414.39 635.6 414.63 636.6 414.85 C637.6 415.07 638.6 415.28 639.6 415.47 C640.6 415.66 641.6 415.83 642.6 415.99 C643.6 416.15 644.6 416.29 645.6 416.42 C646.6 416.55 647.6 416.67 648.6 416.77 C649.6 416.87 650.6 416.96 651.6 417.04 C652.6 417.12 653.6 417.19 654.6 417.25 C655.6 417.31 656.6 417.35 657.6 417.39 C658.6 417.43 659.6 417.47 660.6 417.49 C661.6 417.51 662.6 417.53 663.6 417.54 C664.6 417.55 665.6 417.55 666.6 417.55 C667.6 417.55 668.6 417.54 669.6 417.53 C670.6 417.52 671.6 417.5 672.6 417.49 C673.6 417.48 674.6 417.46 675.6 417.44 C676.6 417.42 677.6 417.41 678.6 417.39 C679.6 417.37 680.6 417.35 681.6 417.33 C682.6 417.31 683.6 417.3 684.6 417.29 C685.6 417.28 686.6 417.26 687.6 417.26 C688.6 417.25 689.6 417.25 690.6 417.26 C691.6 417.26 692.6 417.27 693.6 417.29 C694.6 417.31 695.6 417.33 696.6 417.36 C697.6 417.39 698.98 417.45 699.6 417.48 C700.22 417.51 700.18 417.51 700.3 417.52" stroke="#1f77b4" stroke-width="8.8" fill="none" stroke-linejoin="round" stroke-linecap="square" clip-path="url(#ax)"/>
<path d="M97.8 29.3 V421.6" stroke="#1f77b4" stroke-width="3.2"/>
<path d="M96.2 29.3 H889.15" stroke="#000" stroke-width="2.9"/>
<path d="M96.2 421.6 H889.15" stroke="#000" stroke-width="2.9"/>
<text transform="translate(261.68 344.52) scale(1.0933 1)" font-size="28.028" font-weight="bold" fill="#000">50%</text>
<path d="M169.97 421.6 V60.8" stroke="#ff7f0e" stroke-width="3.4" stroke-dasharray="3.4 5.96" fill="none"/>
<path d="M169.97 60.8 H887.7" stroke="#ff7f0e" stroke-width="3.4" stroke-dasharray="3.4 5.96" fill="none"/>
<path d="M241.74 421.6 V140.7" stroke="#ff7f0e" stroke-width="3.4" stroke-dasharray="3.4 5.96" fill="none"/>
<path d="M241.74 140.7 H887.7" stroke="#ff7f0e" stroke-width="3.4" stroke-dasharray="3.4 5.96" fill="none"/>
<path d="M313.51 421.6 V249.2" stroke="#ff7f0e" stroke-width="3.4" stroke-dasharray="3.4 5.96" fill="none"/>
<path d="M313.51 249.2 H887.7" stroke="#ff7f0e" stroke-width="3.4" stroke-dasharray="3.4 5.96" fill="none"/>
<path d="M385.28 421.6 V336.5" stroke="#ff7f0e" stroke-width="3.4" stroke-dasharray="3.4 5.96" fill="none"/>
<path d="M385.28 336.5 H887.7" stroke="#ff7f0e" stroke-width="3.4" stroke-dasharray="3.4 5.96" fill="none"/>
<path d="M96 28.34 L98 28.77 L100 29.23 L102 29.7 L104 30.18 L106 30.65 L108 31.11 L110 31.54 L112 31.94 L114 32.29 L116 32.61 L118 32.93 L120 33.27 L122 33.63 L124 34.06 L126 34.55 L128 35.17 L130 36.09 L132 37.41 L134 38.81 L136 39.9 L138 40.63 L140 41.35 L142 42.34 L144 43.51 L146 44.71 L148 45.86 L150 46.98 L152 48.08 L154 49.19 L156 50.32 L158 51.5 L160 52.73 L162 54.04 L164 55.42 L166 56.87 L168 58.39 L170 59.97 L172 61.6 L174 63.29 L176 65.02 L178 66.79 L180 68.61 L182 70.48 L184 72.4 L186 74.37 L188 76.4 L190 78.49 L192 80.64 L194 82.86 L196 85.15 L198 87.53 L200 89.99 L202 92.56 L204 95.23 L206 97.99 L208 100.75 L210 103.41 L212 105.86 L214 108.14 L216 110.53 L218 113.23 L220 116.17 L222 119.27 L224 122.44 L226 125.54 L228 128.4 L230 130.88 L232 132.95 L234 134.78 L236 136.55 L238 138.46 L240 140.69 L242 143.5 L244 147.22 L246 151.55 L248 155.48 L250 158.44 L252 160.89 L254 163.26 L256 165.74 L258 168.48 L260 171.61 L262 175.29 L264 179.48 L266 183.36 L268 186.73 L270 189.79 L272 192.75 L274 195.8 L276 198.99 L278 202.09 L280 205.01 L282 207.82 L284 210.61 L286 213.43 L288 216.36 L290 219.37 L292 222.26 L294 224.8 L296 226.98 L298 229.12 L300 231.47 L302 233.99 L304 236.59 L306 239.2 L308 241.77 L310 244.39 L312 247.13 L314 250.04 L316 253.14 L318 256.39 L320 259.36 L322 261.8 L324 263.83 L326 265.58 L328 267.2 L330 268.81 L332 270.55 L334 272.57 L336 274.91 L338 277.48 L340 280.18 L342 282.9 L344 285.52 L346 287.96 L348 290.19 L350 292.29 L352 294.36 L354 296.5 L356 298.79 L358 301.37 L360 304.29 L362 307.4 L364 310.51 L366 313.53 L368 316.78 L370 320.34 L372 323.76 L374 326.61 L376 328.91 L378 331.04 L380 333.16 L382 335.27 L384 337.34 L386 339.32 L388 341.21 L390 342.95 L392 344.54 L394 345.94 L396 347.12 L398 348.14 L400 349.12 L402 350.19 L404 351.48 L406 353.11 L408 355.23 L410 357.76 L412 360.4 L414 362.84 L416 364.91 L418 366.63 L420 368.05 L422 369.22 L424 370.18 L426 370.99 L428 371.68 L430 372.31 L432 372.93 L434 373.56 L436 374.24 L438 374.97 L440 375.79 L442 376.7 L444 377.72 L446 378.85 L448 380.04 L450 381.21 L452 382.3 L454 383.31 L456 384.24 L458 385.11 L460 385.92 L462 386.69 L464 387.4 L466 388.08 L468 388.74 L470 389.37 L472 389.98 L474 390.58 L476 391.18 L478 391.77 L480 392.36 L482 392.95 L484 393.54 L486 394.14 L488 394.76 L490 395.38 L492 396.03 L494 396.7 L496 397.39 L498 398.1 L500 398.85 L502 399.63 L504 400.44 L506 401.27 L508 402.1 L510 402.94 L512 403.77 L514 404.59 L516 405.39 L518 406.16 L520 406.89 L522 407.57 L524 408.2 L526 408.76 L528 409.24 L530 409.62 L532 409.9 L534 410.1 L536 410.22 L538 410.28 L540 410.31 L542 410.32 L544 410.32 L546 410.33 L548 410.38 L550 410.47 L552 410.62 L554 410.85 L556 411.18 L558 411.62 L560 412.16 L562 412.75 L564 413.34 L566 413.9 L568 414.41 L570 414.88 L572 415.31 L574 415.7 L576 416.06 L578 416.38 L580 416.67 L582 416.93 L584 417.17 L586 417.38 L588 417.56 L590 417.72 L592 417.87 L594 417.99 L596 418.1 L598 418.2 L600 418.28 L602 418.35 L604 418.41 L606 418.47 L608 418.53 L610 418.58 L612 418.63 L614 418.68 L616 418.73 L618 418.79 L620 418.86 L622 418.94 L624 419.03 L626 419.13 L628 419.24 L630 419.38 L632 419.53 L634 419.7 L636 419.9 L638 420.12 L640 420.37 L696.5 420.6 L697.5 421.4 L704.5 421.5" stroke="#ff7f0e" stroke-width="9.4" fill="none" stroke-linejoin="round" clip-path="url(#ax)"/>
<path d="M887.7 29.3 V420.3" stroke="#ff7f0e" stroke-width="2.9"/>
<path d="M887.7 421.6 H869.7 M887.7 401.99 H873.2 M887.7 382.37 H873.2 M887.7 362.75 H873.2 M887.7 343.14 H869.7 M887.7 323.53 H873.2 M887.7 303.91 H873.2 M887.7 284.3 H873.2 M887.7 264.68 H869.7 M887.7 245.07 H873.2 M887.7 225.45 H873.2 M887.7 205.84 H873.2 M887.7 186.22 H869.7 M887.7 166.61 H873.2 M887.7 146.99 H873.2 M887.7 127.38 H873.2 M887.7 107.76 H869.7 M887.7 88.15 H873.2 M887.7 68.53 H873.2 M887.7 48.92 H873.2 M887.7 29.3 H869.7" stroke="#ff7f0e" stroke-width="2.6" fill="none"/>
<text transform="translate(34.5 432.02) scale(1.0578 1)" font-size="28.360" font-weight="normal" fill="#1f77b4">0.00</text>
<text transform="translate(34.81 366.63) scale(1.0455 1)" font-size="28.360" font-weight="normal" fill="#1f77b4">0.05</text>
<text transform="translate(34.5 301.25) scale(1.0540 1)" font-size="28.360" font-weight="normal" fill="#1f77b4">0.10</text>
<text transform="translate(34.81 235.87) scale(1.0455 1)" font-size="28.360" font-weight="normal" fill="#1f77b4">0.15</text>
<text transform="translate(36.34 170.48) scale(1.0220 1)" font-size="28.360" font-weight="normal" fill="#1f77b4">0.20</text>
<text transform="translate(36.65 105.1) scale(1.0115 1)" font-size="28.360" font-weight="normal" fill="#1f77b4">0.25</text>
<text transform="translate(34.5 39.72) scale(1.0540 1)" font-size="28.360" font-weight="normal" fill="#1f77b4">0.30</text>
<text transform="translate(893.79 432.38) scale(1.0056 1)" font-size="28.360" font-weight="normal" fill="#ff7f0e">0%</text>
<text transform="translate(893.74 353.92) scale(1.0288 1)" font-size="28.360" font-weight="normal" fill="#ff7f0e">20%</text>
<text transform="translate(893.95 275.46) scale(1.0250 1)" font-size="28.360" font-weight="normal" fill="#ff7f0e">40%</text>
<text transform="translate(893.6 197) scale(1.0312 1)" font-size="28.360" font-weight="normal" fill="#ff7f0e">60%</text>
<text transform="translate(893.62 118.54) scale(1.0310 1)" font-size="28.360" font-weight="normal" fill="#ff7f0e">80%</text>
<text transform="translate(893.93 40.08) scale(1.0344 1)" font-size="28.360" font-weight="normal" fill="#ff7f0e">100%</text>
<text transform="translate(90.04 450.33) scale(0.9894 1)" font-size="31.189" font-weight="normal" fill="#000">0</text>
<text transform="translate(233.63 450.2) scale(0.9563 1)" font-size="31.006" font-weight="normal" fill="#000">2</text>
<text transform="translate(377.3 450.2) scale(0.9920 1)" font-size="31.030" font-weight="normal" fill="#000">4</text>
<text transform="translate(520.45 450.33) scale(1.0213 1)" font-size="31.189" font-weight="normal" fill="#000">6</text>
<text transform="translate(664.02 450.33) scale(1.0104 1)" font-size="31.189" font-weight="normal" fill="#000">8</text>
<text transform="translate(798.56 450.33) scale(1.0297 1)" font-size="31.189" font-weight="normal" fill="#000">10</text>
<text transform="translate(20.15 349.11) rotate(-90) scale(1.0996 1)" font-size="27.380" font-weight="normal" fill="#1f77b4">Probability density</text>
<text transform="translate(995.92 381.84) rotate(-90) scale(1.0957 1)" font-size="28.027" font-weight="normal" fill="#ff7f0e">Cumulative distribution</text>
<text transform="translate(344.92 487.82) scale(1.1003 1)" font-size="28.121" font-weight="normal" fill="#000">Inferred</text>
<text transform="translate(460.45 487.82) scale(1.0449 1)" font-size="28.121" font-weight="normal" fill="#000">vsin</text>
<text transform="translate(517.03 487.7) scale(1.1923 1)" font-size="27.958" font-weight="normal" fill="#000">i</text>
<text transform="translate(533.16 485.84) scale(1.2014 1)" font-size="25.386" font-weight="normal" fill="#000">[</text>
<text transform="translate(543.41 487.7) scale(1.0953 1)" font-size="27.958" font-weight="normal" fill="#000">km</text>
<text transform="translate(588.61 487.82) scale(1.0539 1)" font-size="28.138" font-weight="normal" fill="#000">s</text>
<text transform="translate(633.54 485.84) scale(1.2605 1)" font-size="25.386" font-weight="normal" fill="#000">]</text>
<rect x="604.8" y="471.55" width="13.6" height="1.9" fill="#000"/>
<text transform="translate(619.42 478.1) scale(0.9296 1)" font-size="19.784" font-weight="normal" fill="#000">1</text>
<text transform="translate(456.21 15.8) scale(1.0494 1)" font-size="22.319" font-weight="bold" fill="#000">ALMA</text>
<text transform="translate(596.46 202.78) scale(1.1155 1)" font-size="22.177" font-weight="bold" fill="#ff7f0e">Simulation B</text>
</svg></div></body></html>
